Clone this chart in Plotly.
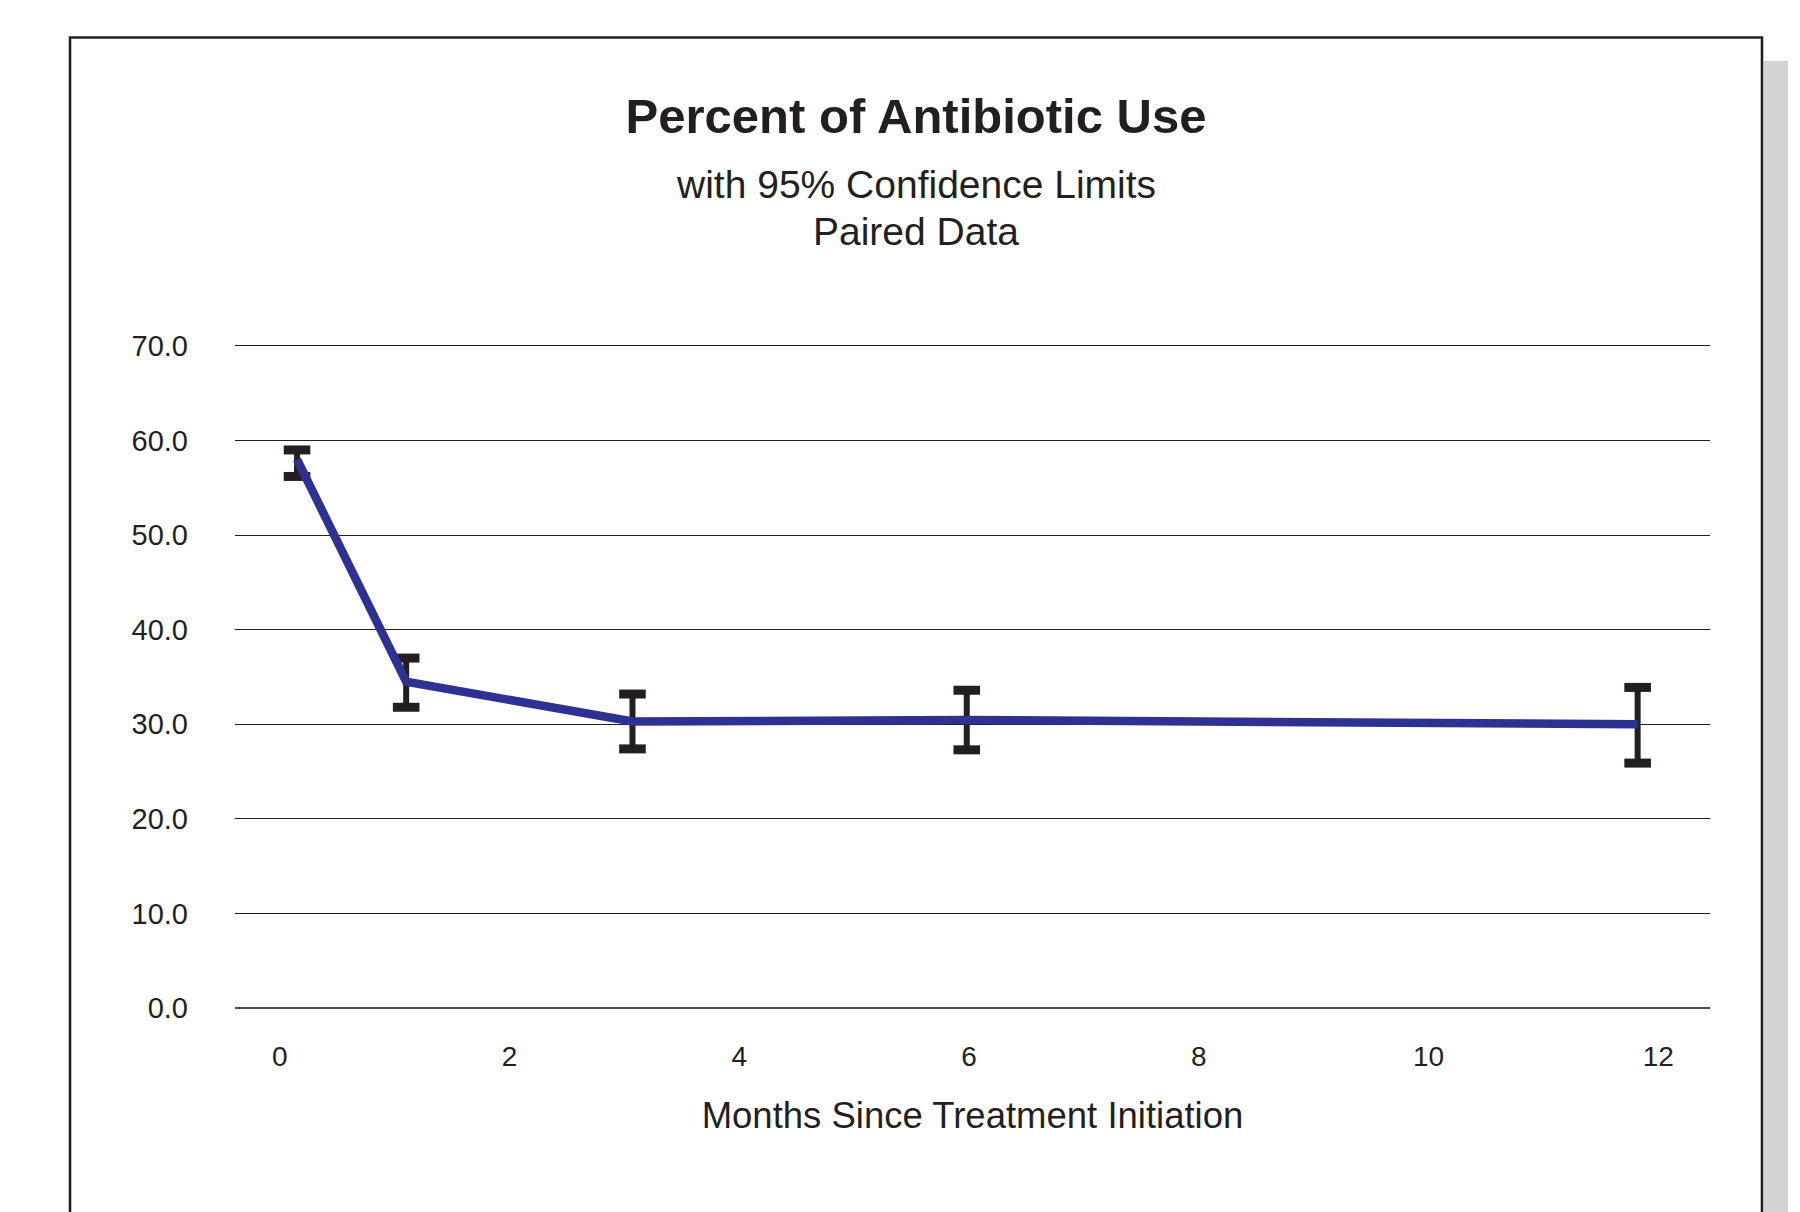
import plotly.graph_objects as go

# ---- data ----
months = [0.15, 1.10, 3.07, 5.98, 11.82]
percent = [58.0, 34.5, 30.3, 30.45, 30.0]
upper = [59.0, 37.0, 33.2, 33.6, 33.9]
lower = [56.2, 31.8, 27.4, 27.3, 25.9]
x_ticks = [0, 2, 4, 6, 8, 10, 12]
y_ticks = [0, 10, 20, 30, 40, 50, 60, 70]

title = "Percent of Antibiotic Use"
subtitle1 = "with 95% Confidence Limits"
subtitle2 = "Paired Data"
x_title = "Months Since Treatment Initiation"

# ---- layout constants (page has an 8px body margin) ----
OFF = 8
W, H = 1800 - OFF, 1212 - OFF
L, R, T, B = 235 - OFF, 90, 344 - OFF, 202
PW, PH = W - L - R, H - T - B
FONT = "Liberation Sans, Arial, Helvetica, sans-serif"
TXT = "#231F20"


def px_x(p):
    return (p - OFF - L) / PW


def px_y(p):
    return (H - B - (p - OFF)) / PH


err_plus = [u - v for u, v in zip(upper, percent)]
err_minus = [v - lo for v, lo in zip(percent, lower)]

fig = go.Figure()

# error bar stems
fig.add_trace(go.Scatter(
    x=months, y=percent, mode="markers",
    marker=dict(size=1, color="rgba(0,0,0,0)"),
    error_y=dict(type="data", symmetric=False, array=err_plus, arrayminus=err_minus,
                 color=TXT, thickness=6, width=0),
    hoverinfo="skip", showlegend=False,
))
# thick caps
fig.add_trace(go.Scatter(
    x=months + months, y=upper + lower, mode="markers",
    marker=dict(symbol="line-ew", size=19, color=TXT, line=dict(color=TXT, width=9)),
    hoverinfo="skip", showlegend=False,
))
# main line
fig.add_trace(go.Scatter(
    x=months, y=percent, mode="lines",
    line=dict(color="#2E3192", width=8.5),
    showlegend=False,
))

shapes = [
    dict(type="rect", xref="paper", yref="paper", layer="below",
         x0=px_x(1764), x1=px_x(1788), y0=px_y(1240), y1=px_y(61),
         fillcolor="#D1D3D4", line=dict(width=0)),
    dict(type="rect", xref="paper", yref="paper", layer="below",
         x0=px_x(70), x1=px_x(1762), y0=px_y(1240), y1=px_y(37.5),
         fillcolor="white", line=dict(color=TXT, width=2.6)),
]

annotations = [
    dict(text=subtitle1, xref="paper", yref="paper", x=px_x(916), y=px_y(184),
         xanchor="center", yanchor="middle", showarrow=False,
         font=dict(family=FONT, size=39, color=TXT)),
    dict(text=subtitle2, xref="paper", yref="paper", x=px_x(916), y=px_y(231),
         xanchor="center", yanchor="middle", showarrow=False,
         font=dict(family=FONT, size=39, color=TXT)),
]

fig.update_layout(
    width=W, height=H,
    margin=dict(l=L, r=R, t=T, b=B),
    paper_bgcolor="white", plot_bgcolor="rgba(0,0,0,0)",
    font=dict(family=FONT, color=TXT),
    title=dict(text="<b>" + title + "</b>", x=(916 - OFF) / W, xanchor="center",
               y=1 - (116 - OFF) / H, yanchor="middle", xref="container", yref="container",
               font=dict(family=FONT, size=49, color=TXT)),
    shapes=shapes,
    annotations=annotations,
    xaxis=dict(range=[-0.39, 12.45], tickvals=x_ticks, ticktext=[str(v) for v in x_ticks],
               showgrid=False, zeroline=False, showline=False, ticks="",
               tickfont=dict(family=FONT, size=28, color=TXT), ticklabelstandoff=27,
               title=dict(text=x_title, standoff=31, font=dict(family=FONT, size=36.5, color=TXT)),
               automargin=False),
    yaxis=dict(range=[-0.2, 70.2], tickvals=y_ticks, ticktext=[f"{v:.1f}" for v in y_ticks],
               showgrid=True, gridcolor="#231F20", gridwidth=1.3,
               zeroline=True, zerolinecolor="#4D4D4F", zerolinewidth=2.2,
               showline=False, ticks="",
               tickfont=dict(family=FONT, size=29, color=TXT), ticklabelstandoff=46,
               automargin=False),
)

fig.write_html("out.html")
